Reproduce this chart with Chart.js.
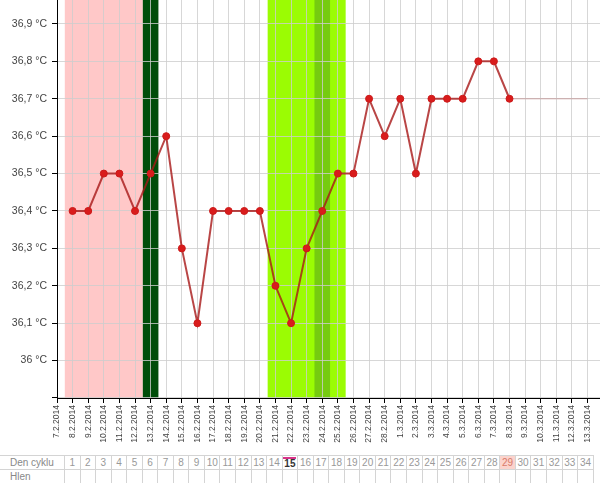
<!DOCTYPE html>
<html lang="cs">
<head>
  <meta charset="UTF-8">
  <title>Teplotní křivka</title>
  <script src="https://cdn.jsdelivr.net/npm/chart.js"></script>
  <style>
    body { margin: 0; background: #fff; font-family: "Liberation Sans", Arial, sans-serif; }
    #wrap { position: relative; width: 600px; height: 448px; }
    table.cycle { border-collapse: collapse; table-layout: fixed; width: 594px; margin-top: 7px; font-size: 10px; color: #999; }
    table.cycle td { border: 1px solid #d4d4d4; height: 13px; padding: 0; text-align: center; }
    table.cycle td.lbl { border-left: none; text-align: left; padding-left: 10px; color: #888; width: 54px; }
    table.cycle td.today { color: #333; font-weight: bold; }
    table.cycle td.today span { display: inline-block; border-top: 2px solid #d9348a; line-height: 10px; padding: 0 1px; }
    table.cycle td.mens { background: #fbd3cc; color: #d97a6a; }
  </style>
</head>
<body>
<div id="wrap"><canvas id="bbtChart"></canvas></div>
<table class="cycle" id="cycleTable"></table>

<script>
  // x labels (dates), index 0 = 7.2.2014
  const dateLabels = ['7.2.2014', '8.2.2014', '9.2.2014', '10.2.2014', '11.2.2014', '12.2.2014', '13.2.2014',
      '14.2.2014', '15.2.2014', '16.2.2014', '17.2.2014', '18.2.2014', '19.2.2014', '20.2.2014', '21.2.2014',
      '22.2.2014', '23.2.2014', '24.2.2014', '25.2.2014', '26.2.2014', '27.2.2014', '28.2.2014', '1.3.2014',
      '2.3.2014', '3.3.2014', '4.3.2014', '5.3.2014', '6.3.2014', '7.3.2014', '8.3.2014', '9.3.2014',
      '10.3.2014', '11.3.2014', '12.3.2014', '13.3.2014'];

  // measured temperatures, day 1 (8.2.2014) .. day 29 (8.3.2014)
  const temps = [36.4, 36.4, 36.5, 36.5, 36.4, 36.5, 36.6, 36.3, 36.1, 36.4, 36.4, 36.4, 36.4, 36.2,
      36.1, 36.3, 36.4, 36.5, 36.5, 36.7, 36.6, 36.7, 36.5, 36.7, 36.7, 36.7, 36.8, 36.8, 36.7];

  // flat continuation, day 29 .. day 34
  const trendDays = [29, 30, 31, 32, 33, 34];
  const trendTemps = [36.7, 36.7, 36.7, 36.7, 36.7, 36.7];

  // cycle day numbers for the table
  const cycleDays = [1, 2, 3, 4, 5, 6, 7, 8, 9, 10, 11, 12, 13, 14, 15, 16, 17, 18, 19, 20,
      21, 22, 23, 24, 25, 26, 27, 28, 29, 30, 31, 32, 33, 34];
  const todayDay = 15;
  const mensDay = 29;

  // highlighted day ranges (cycle day from..to)
  const menstruationDays = [1, 5];
  const peakDays = [6, 6];
  const fertileDays = [14, 18];
  const ovulationDays = [17, 17];

  const bands = [
      { range: menstruationDays, color: '#ffc8c8' },
      { range: peakDays, color: '#014d0a' },
      { range: fertileDays, color: '#9bfc03' },
      { range: ovulationDays, color: '#76cb10' }
  ];

  // background bands behind the grid
  const bandPlugin = {
      id: 'bands',
      beforeDraw(chart) {
          const { ctx, chartArea, scales } = chart;
          ctx.save();
          bands.forEach(b => {
              const x1 = scales.x.getPixelForValue(b.range[0] - 0.5);
              const x2 = scales.x.getPixelForValue(b.range[1] + 0.5);
              ctx.fillStyle = b.color;
              ctx.fillRect(x1, chartArea.top, x2 - x1, chartArea.bottom - chartArea.top);
          });
          ctx.restore();
      }
  };

  const fmtTemp = v => {
      if (v < 35.95) return '';
      return Number(v.toFixed(1)).toString().replace('.', ',') + ' °C';
  };

  new Chart(document.getElementById('bbtChart'), {
      type: 'line',
      data: {
          datasets: [{
              data: temps.map((t, i) => ({ x: i + 1, y: t })),
              borderColor: 'rgba(168, 24, 24, 0.8)',
              borderWidth: 2,
              pointRadius: 3.5,
              pointBackgroundColor: '#d91c1c',
              pointBorderColor: '#cc1a1a',
              pointBorderWidth: 1,
              tension: 0
          }, {
              data: trendDays.map((d, i) => ({ x: d, y: trendTemps[i] })),
              borderColor: '#c9a5a5',
              borderWidth: 1,
              pointRadius: 0,
              tension: 0
          }]
      },
      options: {
          responsive: true,
          maintainAspectRatio: false,
          animation: false,
          layout: { padding: 0, autoPadding: false },
          plugins: { legend: { display: false }, tooltip: { enabled: false } },
          scales: {
              x: {
                  type: 'linear',
                  min: 0,
                  max: 34.8,
                  afterFit(scale) {
                      scale.height = 50;
                      scale.paddingLeft = 0;
                      scale.paddingRight = 0;
                  },
                  border: { color: '#000' },
                  grid: { color: 'rgba(205, 205, 205, 0.8)', tickColor: '#000', tickLength: 5 },
                  ticks: {
                      stepSize: 1,
                      includeBounds: false,
                      autoSkip: false,
                      maxRotation: 90,
                      minRotation: 90,
                      padding: 2,
                      color: '#444',
                      font: { size: 8.5, family: '"Liberation Sans", Arial, sans-serif' },
                      callback: v => dateLabels[v] ?? ''
                  }
              },
              y: {
                  min: 35.9,
                  max: 36.964,
                  afterFit(scale) {
                      scale.width = 57;
                      scale.paddingTop = 0;
                      scale.paddingBottom = 0;
                  },
                  border: { color: '#000' },
                  grid: { color: 'rgba(205, 205, 205, 0.8)', tickColor: '#000', tickLength: 5 },
                  ticks: {
                      stepSize: 0.1,
                      includeBounds: false,
                      padding: 5,
                      color: '#444',
                      font: { size: 10.5, family: '"Liberation Sans", Arial, sans-serif' },
                      callback: v => fmtTemp(v)
                  }
              }
          }
      },
      plugins: [bandPlugin]
  });

  // cycle table under the chart
  const table = document.getElementById('cycleTable');
  const row1 = table.insertRow();
  const row2 = table.insertRow();
  const l1 = row1.insertCell(); l1.className = 'lbl'; l1.textContent = 'Den cyklu';
  const l2 = row2.insertCell(); l2.className = 'lbl'; l2.textContent = 'Hlen';
  cycleDays.forEach(d => {
      const c = row1.insertCell();
      if (d === todayDay) {
          c.className = 'today';
          c.innerHTML = '<span>' + d + '</span>';
      } else {
          if (d === mensDay) c.className = 'mens';
          c.textContent = d;
      }
      row2.insertCell();
  });
</script>
</body>
</html>
